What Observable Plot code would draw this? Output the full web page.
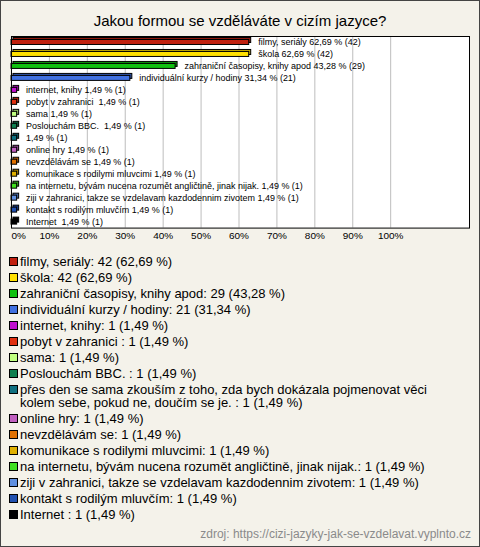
<!DOCTYPE html>
<html>
<head>
<meta charset="utf-8">
<script src="https://cdn.jsdelivr.net/npm/d3@7"></script>
<script src="https://cdn.jsdelivr.net/npm/@observablehq/plot@0.6"></script>
<style>
html, body { margin: 0; padding: 0; background: #fff; }
#wrap { position: relative; width: 480px; height: 547px; box-sizing: border-box; border: 1px solid #444; background: #f4f2ea; font-family: Arial, "Liberation Sans", sans-serif; overflow: hidden; }
#title { position: absolute; top: 10px; left: 0; width: 478px; text-align: center; font-size: 15px; line-height: 20px; color: #000; }
#chart { position: absolute; left: -1px; top: 34px; }
#legend { position: absolute; left: 8px; top: 254px; font-size: 13px; line-height: 13px; color: #000; }
.item { display: flex; align-items: flex-start; margin-bottom: 3px; }
.sw { width: 7px; height: 7px; border: 1px solid #000; margin-top: 2px; margin-right: 2px; flex: none; }
.tx { width: 445px; }
#source { position: absolute; right: 8px; top: 526px; font-size: 12px; line-height: 14px; color: #8a8a8a; }
</style>
</head>
<body>
<div id="wrap">
  <div id="title">Jakou formou se vzděláváte v cizím jazyce?</div>
  <div id="chart"></div>
  <div id="legend"></div>
  <div id="source">zdroj: https://cizi-jazyky-jak-se-vzdelavat.vyplnto.cz</div>
</div>
<script>
const categories = [
  "filmy, seriály",
  "škola",
  "zahraniční časopisy, knihy apod",
  "individuální kurzy / hodiny",
  "internet, knihy",
  "pobyt v zahranici ",
  "sama",
  "Poslouchám BBC. ",
  "přes den se sama zkouším z toho, zda bych dokázala pojmenovat věci kolem sebe, pokud ne, doučím se je. ",
  "online hry",
  "nevzdělávám se",
  "komunikace s rodilymi mluvcimi",
  "na internetu, bývám nucena rozumět angličtině, jinak nijak.",
  "ziji v zahranici, takze se vzdelavam kazdodennim zivotem",
  "kontakt s rodilým mluvčím",
  "Internet "
];
const barLabels = [
  "filmy, seriály",
  "škola",
  "zahraniční časopisy, knihy apod",
  "individuální kurzy / hodiny",
  "internet, knihy",
  "pobyt v zahranici ",
  "sama",
  "Poslouchám BBC. ",
  "",
  "online hry",
  "nevzdělávám se",
  "komunikace s rodilymi mluvcimi",
  "na internetu, bývám nucena rozumět angličtině, jinak nijak.",
  "ziji v zahranici, takze se vzdelavam kazdodennim zivotem",
  "kontakt s rodilým mluvčím",
  "Internet "
];
const counts = [42, 42, 29, 21, 1, 1, 1, 1, 1, 1, 1, 1, 1, 1, 1, 1];
const percents = [62.69, 62.69, 43.28, 31.34, 1.49, 1.49, 1.49, 1.49, 1.49, 1.49, 1.49, 1.49, 1.49, 1.49, 1.49, 1.49];
const colors = [
  "#c0200f", "#ffe000", "#10c010", "#4070e0", "#c010d0", "#e03010", "#c0ff80", "#108050",
  "#107080", "#c060c0", "#e07000", "#e0b000", "#40e020", "#6090e0", "#2050b0", "#000000"
];
const xTicks = [0, 10, 20, 30, 40, 50, 60, 70, 80, 90, 100];

const fmt = v => v.toFixed(2).replace(".", ",");
const data = categories.map((c, i) => ({
  key: i,
  cat: c,
  label: barLabels[i],
  count: counts[i],
  pct: percents[i],
  color: colors[i],
  dark: d3.color(colors[i]).darker(0.8).formatHex()
}));

const chart = Plot.plot({
  width: 480,
  height: 218,
  marginLeft: 11,
  marginRight: 10,
  marginTop: 1,
  marginBottom: 25,
  style: { fontFamily: "Arial, 'Liberation Sans', sans-serif", background: "transparent", color: "#000" },
  x: { domain: [0, 100], range: [11, 391], axis: null },
  y: { domain: data.map(d => d.key), padding: 0, axis: null },
  color: { type: "identity" },
  marks: [
    Plot.frame({ fill: "white", stroke: "none" }),
    Plot.gridX(xTicks.slice(1), { stroke: "#bdbdbd", strokeOpacity: 1 }),
    Plot.barX(data, { x: "pct", y: "key", fill: "dark", stroke: "#000", strokeWidth: 1, insetTop: 3.5, insetBottom: 3.5, dx: 2, dy: -2 }),
    Plot.barX(data, { x: "pct", y: "key", fill: "color", stroke: "#000", strokeWidth: 1, insetTop: 3.5, insetBottom: 3.5 }),
    Plot.text(data, {
      x: "pct", y: "key",
      text: d => `${d.label ? d.label + " " : ""}${fmt(d.pct)} % (${d.count})`,
      textAnchor: "start", dx: 9, fontSize: 9, fill: "#000"
    }),
    Plot.text(xTicks.slice(0, 1), { x: d => d, frameAnchor: "bottom", dy: 11, text: d => d + "%", textAnchor: "start", fontSize: 10, fill: "#000" }),
    Plot.text(xTicks.slice(1), { x: d => d, frameAnchor: "bottom", dy: 11, text: d => d + "%", fontSize: 10, fill: "#000" }),
    Plot.frame({ stroke: "#000", strokeOpacity: 1 })
  ]
});
document.getElementById("chart").appendChild(chart);

const legend = document.getElementById("legend");
data.forEach(d => {
  const item = document.createElement("div");
  item.className = "item";
  const sw = document.createElement("div");
  sw.className = "sw";
  sw.style.background = d.color;
  const tx = document.createElement("div");
  tx.className = "tx";
  tx.textContent = `${d.cat}: ${d.count} (${fmt(d.pct)} %)`;
  item.appendChild(sw);
  item.appendChild(tx);
  legend.appendChild(item);
});
</script>
</body>
</html>
